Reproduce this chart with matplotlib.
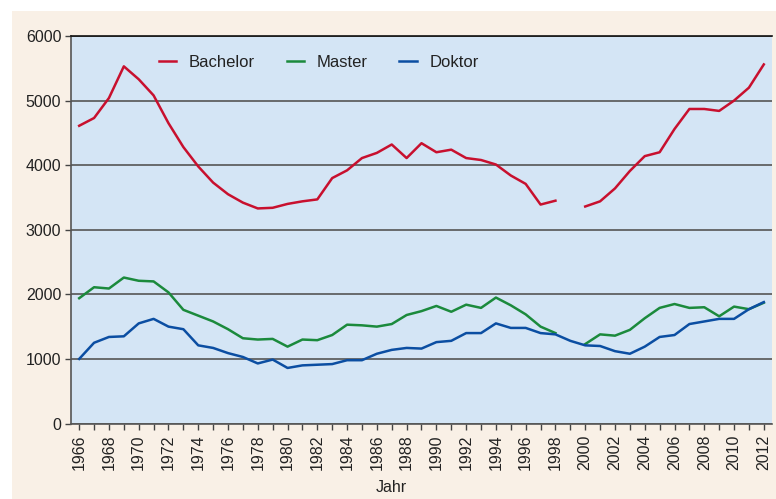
import numpy as np
import matplotlib
matplotlib.use("Agg")
import matplotlib.pyplot as plt
from matplotlib.patches import Rectangle
from matplotlib import font_manager

nan = np.nan
years = list(range(1966, 2013))
bachelor = [4610, 4730, 5040, 5530, 5330, 5080, 4650, 4280, 3980, 3730,
            3550, 3420, 3330, 3340, 3400, 3440, 3470, 3800, 3920, 4110,
            4190, 4320, 4110, 4340, 4200, 4240, 4110, 4080, 4010, 3840,
            3710, 3390, 3450, nan, 3360, 3440, 3640, 3910, 4140, 4200,
            4560, 4870, 4870, 4840, 5000, 5200, 5560]
master = [1940, 2110, 2090, 2260, 2210, 2200, 2030, 1760, 1670, 1580,
          1460, 1320, 1300, 1310, 1190, 1300, 1290, 1370, 1530, 1520,
          1500, 1540, 1680, 1740, 1820, 1730, 1840, 1790, 1950, 1830,
          1690, 1500, 1400, nan, 1230, 1380, 1360, 1450, 1630, 1790,
          1850, 1790, 1800, 1660, 1810, 1770, 1870]
doktor = [1000, 1250, 1340, 1350, 1550, 1620, 1500, 1460, 1210, 1170,
          1090, 1030, 930, 990, 860, 900, 910, 920, 980, 980,
          1080, 1140, 1170, 1160, 1260, 1280, 1400, 1400, 1550, 1480,
          1480, 1400, 1380, 1280, 1210, 1200, 1120, 1080, 1190, 1340,
          1370, 1540, 1580, 1620, 1620, 1770, 1880]
series_names = ["Bachelor", "Master", "Doktor"]
y_ticks = [0, 1000, 2000, 3000, 4000, 5000, 6000]
x_label = "Jahr"

avail = {f.name for f in font_manager.fontManager.ttflist}
fam = "Liberation Sans Narrow" if "Liberation Sans Narrow" in avail else "Liberation Sans"
plt.rcParams['font.family'] = [fam, 'DejaVu Sans']
fs = 13 if fam == "Liberation Sans Narrow" else 11.5

W, H = 776, 499
fig = plt.figure(figsize=(W / 100, H / 100), dpi=100, facecolor="white")
bg = Rectangle((12 / W, 0), 1, (H - 11) / H, transform=fig.transFigure,
               facecolor="#F9F0E6", edgecolor="none", zorder=-10)
fig.patches.append(bg)

ax = fig.add_axes([71 / W, (H - 423.5) / H, (772 - 71) / W, (423.5 - 36) / H])
ax.set_zorder(1)
ax.set_facecolor("#D4E5F5")

colors = ["#C8102E", "#1B8A3C", "#0B4EA2"]
for name, vals, c in zip(series_names, [bachelor, master, doktor], colors):
    ax.plot(years, vals, color=c, lw=1.8, label=name, zorder=3)

ax.set_xlim(1965.45, 2012.55)
ax.set_ylim(0, 6000)
ax.set_yticks(y_ticks)
ax.set_yticklabels([str(v) for v in y_ticks], fontsize=fs, color="#222222")
ax.set_xticks(years[::2])
ax.set_xticklabels([str(y) for y in years[::2]], rotation=90, fontsize=fs, color="#222222")
ax.set_xticks(years, minor=True)
ax.tick_params(axis="x", which="both", direction="out", length=4, width=1, color="#444444", pad=4)
ax.tick_params(axis="y", direction="out", length=4, width=1, color="#444444", pad=3)

ax.yaxis.grid(True, color="#555555", lw=1.2, zorder=1)
ax.set_axisbelow(True)
for s in ["left", "bottom"]:
    ax.spines[s].set_color("#555555")
    ax.spines[s].set_linewidth(1.2)
ax.spines["top"].set_color("#111111")
ax.spines["top"].set_linewidth(1.2)
ax.spines["right"].set_visible(False)

fig.text(391 / W, (H - 487) / H, x_label, fontsize=fs, color="#222222",
         ha="center", va="center")

leg = ax.legend(loc="upper left", bbox_to_anchor=(0.104, 0.99), ncol=3, frameon=False,
                fontsize=fs + 0.5, handlelength=1.05, handletextpad=0.75, columnspacing=1.9)
for t in leg.get_texts():
    t.set_color("#222222")

fig.savefig("out.png", dpi=100, facecolor=fig.get_facecolor())
